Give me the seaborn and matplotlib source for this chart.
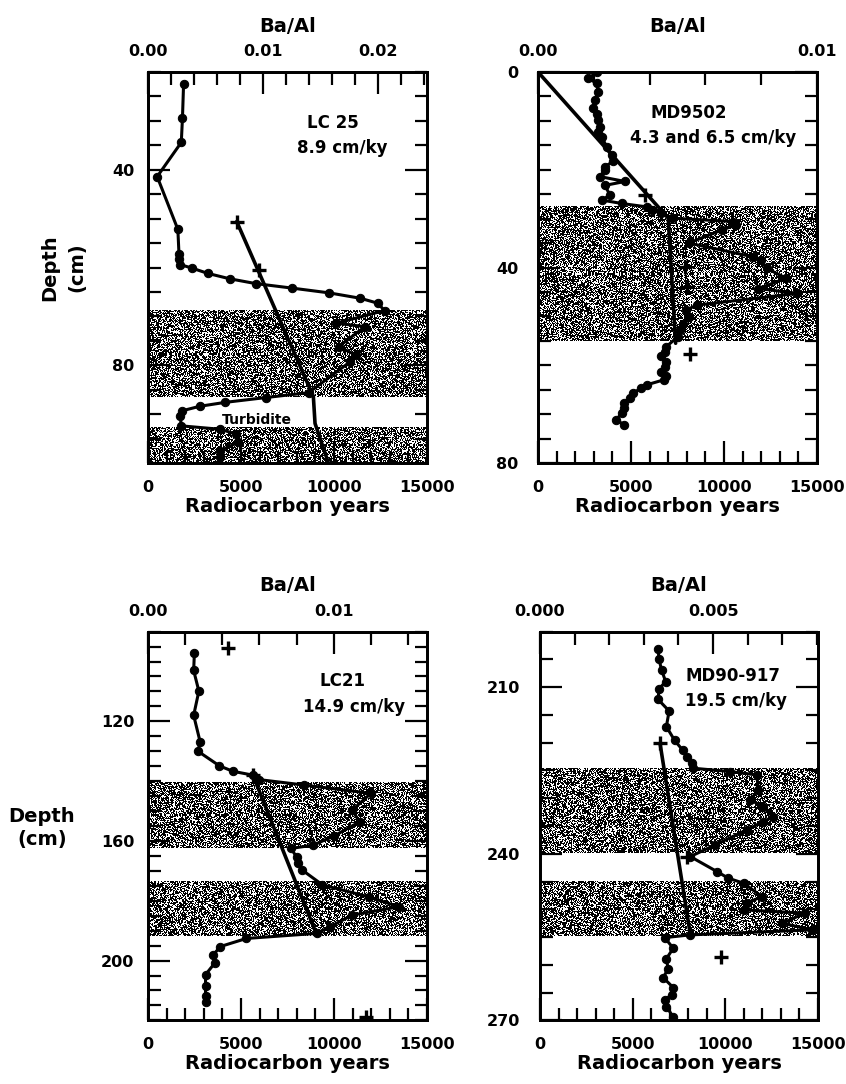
import numpy as np
import matplotlib
matplotlib.use('Agg')
import matplotlib.pyplot as plt
from matplotlib.ticker import MultipleLocator
import seaborn as sns

# ---- LC25 ----
lc25_depth = [22.4, 29.5, 34.4, 41.4, 52.2, 57.3, 58.3, 59.4, 60.1, 61.2, 62.3, 63.3, 64.2, 65.2, 66.3,
              67.3, 68.8, 71.4, 72.1, 76.2, 77.9, 79.3, 85.6, 86.6, 87.6, 88.4, 89.3, 90.3, 92.4, 93.1,
              94.1, 95.8, 97.5, 98.8]
lc25_ba = [0.0031, 0.0030, 0.0029, 0.0008, 0.0026, 0.0027, 0.0027, 0.0028, 0.0038, 0.0052, 0.0071, 0.0094,
           0.0125, 0.0158, 0.0185, 0.0200, 0.0206, 0.0164, 0.0189, 0.0166, 0.0181, 0.0176, 0.0140, 0.0103,
           0.0067, 0.0045, 0.0030, 0.0028, 0.0029, 0.0063, 0.0077, 0.0078, 0.0063, 0.0063]
lc25_age_depth = [50.6, 86.4, 91.9, 100.0]
lc25_age_years = [4770, 8890, 8980, 9700]
lc25_date_depth = [50.6, 60.5]
lc25_date_years = [4770, 5950]
lc25_bands = [(68.8, 86.4), (92.8, 100.0)]

# ---- MD9502 ----
md95_depth = [0.1, 1.3, 2.3, 4.0, 5.7, 7.4, 8.5, 9.8, 11.2, 12.2, 13.2, 15.3, 17.0, 18.3, 19.4, 20.0, 21.4,
              22.4, 23.2, 25.2, 26.2, 26.9, 27.6, 28.2, 28.9, 29.9, 30.6, 31.3, 32.3, 35.0, 37.8, 38.5,
              40.2, 42.2, 44.3, 45.3, 47.7, 48.7, 50.1, 51.5, 52.8, 54.2, 56.2, 57.2, 58.2, 59.3, 60.3,
              61.3, 62.3, 63.0, 64.0, 64.7, 65.7, 66.8, 67.8, 68.8, 69.8, 71.2, 72.2]
md95_ba = [0.0021, 0.0018, 0.0021, 0.00216, 0.00204, 0.00198, 0.0021, 0.00216, 0.00222, 0.00216, 0.00228,
           0.00246, 0.00264, 0.00268, 0.0024, 0.0024, 0.00222, 0.00312, 0.0024, 0.00258, 0.00228, 0.0030,
           0.0039, 0.0041, 0.0044, 0.0048, 0.0070, 0.0071, 0.0066, 0.0054, 0.0077, 0.0080, 0.0082, 0.0089,
           0.0079, 0.0093, 0.0057, 0.0053, 0.0054, 0.0052, 0.0051, 0.0050, 0.0046, 0.00455, 0.0044, 0.0046,
           0.00455, 0.0044, 0.0046, 0.0045, 0.0039, 0.0037, 0.0034, 0.0033, 0.0031, 0.0031, 0.0030, 0.0028,
           0.0031]
md95_age_depth = [0.0, 29.9, 55.5]
md95_age_years = [0, 7000, 7400]
md95_date_depth = [25.2, 39.8, 43.9, 57.6]
md95_date_years = [5750, 7900, 7990, 8170]
md95_bands = [(27.6, 55.1)]

# ---- LC21 ----
lc21_depth = [97.0, 103.0, 109.9, 118.0, 126.9, 130.0, 134.9, 136.7, 138.0, 139.5, 141.3, 144.1, 149.7,
              153.6, 158.4, 161.4, 162.5, 165.3, 167.5, 169.7, 174.7, 178.7, 182.0, 184.8, 188.7, 190.9,
              192.6, 195.3, 198.2, 200.8, 204.7, 208.5, 212.0, 213.7]
lc21_ba = [0.0025, 0.00246, 0.00274, 0.00246, 0.00281, 0.00269, 0.00385, 0.00457, 0.00565, 0.0060, 0.0084,
           0.0120, 0.0110, 0.0114, 0.0100, 0.0089, 0.0077, 0.0080, 0.0081, 0.0083, 0.0094, 0.0119, 0.0135,
           0.0110, 0.0098, 0.0091, 0.0053, 0.0039, 0.0035, 0.0036, 0.0031, 0.0031, 0.0031, 0.0031]
lc21_age_depth = [138.0, 190.9]
lc21_age_years = [5640, 9040]
lc21_date_depth = [95.5, 138.0, 219.0]
lc21_date_years = [4290, 5640, 11700]
lc21_bands = [(140.5, 162.4), (173.7, 191.8)]

# ---- MD90-917 ----
md90_depth = [203.2, 205.0, 206.9, 209.0, 210.3, 212.2, 214.3, 217.1, 219.6, 221.4, 222.5, 223.6, 224.6,
              225.2, 225.8, 228.5, 230.3, 231.5, 233.3, 234.2, 235.7, 238.4, 240.5, 243.2, 244.4, 245.3,
              247.7, 248.9, 250.1, 250.7, 252.5, 253.7, 254.6, 255.1, 257.0, 258.9, 260.7, 262.3, 264.1,
              265.4, 266.3, 267.5, 269.4]
md90_ba = [0.00341, 0.00344, 0.00351, 0.00363, 0.00344, 0.00341, 0.00373, 0.00365, 0.00389, 0.00413,
           0.00424, 0.00438, 0.00443, 0.0055, 0.00626, 0.00631, 0.00607, 0.00645, 0.00674, 0.00645,
           0.00597, 0.00506, 0.00434, 0.00511, 0.00544, 0.00588, 0.00641, 0.00597, 0.00588, 0.00765,
           0.00700, 0.00785, 0.00434, 0.0036, 0.00385, 0.00365, 0.0037, 0.00356, 0.00385, 0.0038, 0.0036,
           0.00365, 0.00385]
md90_age_depth = [220.1, 254.3]
md90_age_years = [6475, 8100]
md90_date_depth = [220.1, 240.5, 258.5]
md90_date_years = [6475, 7910, 9790]
md90_bands = [(224.7, 239.9), (244.9, 254.8)]

W, H = 846, 1084

sns.set_style('ticks')
plt.rcParams['font.family'] = ['DejaVu Sans']
plt.rcParams['font.weight'] = 'bold'
plt.rcParams['axes.labelweight'] = 'bold'
for key in ['text.color', 'axes.labelcolor', 'xtick.color', 'ytick.color', 'axes.edgecolor']:
    plt.rcParams[key] = 'black'

fig = plt.figure(figsize=(W / 100, H / 100), dpi=100)


def stipple(ax, d0, d1, ppc, seed):
    # speckled grey fill used for the shaded intervals
    rows = max(int((d1 - d0) * ppc), 2)
    rng = np.random.default_rng(seed)
    tex = (rng.random((rows, 280)) > 0.62).astype(float)
    ax.imshow(tex, cmap='gray', vmin=0, vmax=1, extent=(0, 15000, d1, d0),
              aspect='auto', interpolation='nearest', zorder=0.5)


def draw_panel(rect, ba_depth, ba_vals, age_depth, age_years, date_depth, date_years, bands,
               dlim, dmajor, ba_max, ba_major, ba_labels, ba_minor, ypad, notes, seed):
    ax = fig.add_axes(rect)
    ppc = rect[3] * H / (dlim[1] - dlim[0])
    for i, (d0, d1) in enumerate(bands):
        stipple(ax, d0, d1, ppc, seed + i)

    sns.lineplot(x=age_years, y=age_depth, ax=ax, sort=False, estimator=None,
                 color='black', lw=2.6, zorder=3)
    sns.scatterplot(x=date_years, y=date_depth, ax=ax, marker='+', s=90,
                    color='black', linewidth=2.4, zorder=4)

    tw = ax.twiny()
    sns.lineplot(x=ba_vals, y=ba_depth, ax=tw, sort=False, estimator=None, color='black',
                 lw=2.2, marker='o', markersize=6, markeredgecolor='black', zorder=3)

    ax.set_xlim(0, 15000)
    ax.set_ylim(dlim[1], dlim[0])
    tw.set_xlim(0, ba_max)

    ax.set_xticks([0, 5000, 10000, 15000])
    ax.xaxis.set_minor_locator(MultipleLocator(1000))
    ax.set_yticks(dmajor)
    ax.yaxis.set_minor_locator(MultipleLocator(5))
    ax.tick_params(which='both', direction='in', top=False, right=True, width=1.6,
                   labelsize=11.5, colors='black')
    ax.tick_params(which='major', length=16)
    ax.tick_params(which='minor', length=9)
    ax.tick_params(axis='x', pad=12)
    ax.tick_params(axis='y', pad=ypad)

    tw.set_xticks(ba_major)
    tw.set_xticklabels(ba_labels)
    tw.xaxis.set_minor_locator(MultipleLocator(ba_minor))
    tw.tick_params(which='both', direction='in', width=1.6, pad=9, labelsize=11.5, colors='black')
    tw.tick_params(which='major', length=16)
    tw.tick_params(which='minor', length=9)

    ax.set_xlabel('Radiocarbon years', fontsize=14, va='center', color='black')
    ax.xaxis.set_label_coords(0.5, -43 / (rect[3] * H))
    ax.set_ylabel('')
    tw.set_xlabel('Ba/Al', fontsize=14, va='center', color='black')
    tw.xaxis.set_label_coords(0.5, 1 + 46 / (rect[3] * H))

    for a in (ax, tw):
        for s in a.spines.values():
            s.set_linewidth(2.0)
            s.set_color('black')

    for x, y, s in notes:
        ax.text(x, y, s, ha='center', va='center', fontsize=12, fontweight='bold',
                color='black', zorder=5)
    return ax


ax1 = draw_panel([148 / W, 1 - 463 / H, 279 / W, 391 / H], lc25_depth, lc25_ba,
                 lc25_age_depth, lc25_age_years, lc25_date_depth, lc25_date_years, lc25_bands,
                 (20, 100), [40, 80], 0.0243, [0, 0.01, 0.02], ['0.00', '0.01', '0.02'], 0.002, 10,
                 [(9950, 30.4, 'LC 25'), (10430, 35.5, '8.9 cm/ky')], 1)
ax1.text(5850, 91.1, 'Turbidite', ha='center', va='center', fontsize=10, fontweight='bold',
         color='black', zorder=5)
ax1.set_ylabel('Depth\n(cm)', fontsize=14, linespacing=1.55, va='center', ha='center', color='black')
ax1.yaxis.set_label_coords(-0.305, 0.5)

draw_panel([538 / W, 1 - 463 / H, 279 / W, 391 / H], md95_depth, md95_ba,
           md95_age_depth, md95_age_years, md95_date_depth, md95_date_years, md95_bands,
           (0, 80), [0, 40, 80], 0.01, [0, 0.01], ['0.00', '0.01'], 0.002, 14,
           [(8120, 8.4, 'MD9502'), (9410, 13.5, '4.3 and 6.5 cm/ky')], 10)

ax3 = draw_panel([148 / W, 1 - 1020.4 / H, 279 / W, 388.8 / H], lc21_depth, lc21_ba,
                 lc21_age_depth, lc21_age_years, lc21_date_depth, lc21_date_years, lc21_bands,
                 (90, 220), [120, 160, 200], 0.01503, [0, 0.01], ['0.00', '0.01'], 0.002, 10,
                 [(10450, 106.6, 'LC21'), (11080, 115.2, '14.9 cm/ky')], 20)
ax3.set_ylabel('Depth\n(cm)', fontsize=14, rotation=0, linespacing=1.3, va='center', ha='center',
               color='black')
ax3.yaxis.set_label_coords(-0.38, 0.495)

draw_panel([540 / W, 1 - 1020.4 / H, 278 / W, 388.8 / H], md90_depth, md90_ba,
           md90_age_depth, md90_age_years, md90_date_depth, md90_date_years, md90_bands,
           (200, 270), [210, 240, 270], 0.00803, [0, 0.005], ['0.000', '0.005'], 0.001, 14,
           [(10420, 208.0, 'MD90-917'), (10600, 212.5, '19.5 cm/ky')], 30)

fig.savefig('out.png', dpi=100)
